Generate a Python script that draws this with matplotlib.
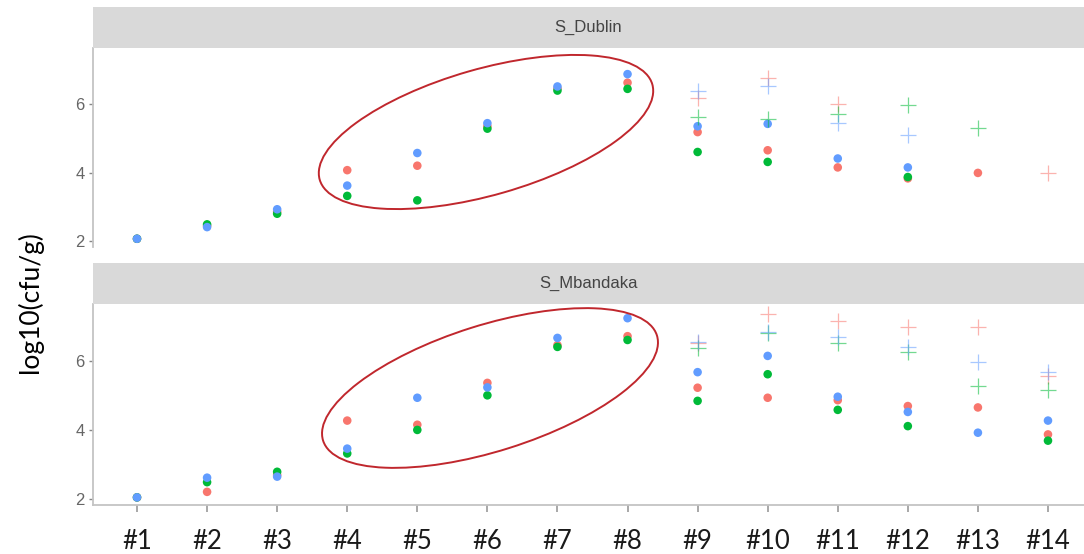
import numpy as np
import matplotlib
matplotlib.use("Agg")
import matplotlib.pyplot as plt
import matplotlib.transforms as mtransforms
from matplotlib.patches import Ellipse, Rectangle

# ---------------------------------------------------------------
# data
# ---------------------------------------------------------------
samples = ["#1", "#2", "#3", "#4", "#5", "#6", "#7",
           "#8", "#9", "#10", "#11", "#12", "#13", "#14"]
plus_samples = ["#9", "#10", "#11", "#12", "#13", "#14"]
nan = np.nan

# S_Dublin - filled circles
dub_red   = [2.07, 2.45, 2.86, 4.07, 4.20, 5.35, 6.45, 6.62, 5.18, 4.65, 4.15, 3.83, 3.99, nan]
dub_green = [2.07, 2.49, 2.80, 3.32, 3.19, 5.28, 6.39, 6.44, 4.60, 4.31, nan, 3.87, nan, nan]
dub_blue  = [2.07, 2.41, 2.93, 3.62, 4.57, 5.44, 6.51, 6.87, 5.35, 5.42, 4.41, 4.15, nan, nan]
# S_Dublin - crosses (#9..#14)
dub_red_p   = [6.18, 6.75, 5.99, nan, nan, 3.99]
dub_green_p = [5.62, 5.55, 5.72, 5.96, 5.29, nan]
dub_blue_p  = [6.39, 6.51, 5.44, 5.10, nan, nan]

# S_Mbandaka - filled circles
mba_red   = [2.05, 2.21, 2.70, 4.27, 4.15, 5.36, 6.45, 6.71, 5.22, 4.93, 4.86, 4.69, 4.65, 3.87]
mba_green = [2.05, 2.49, 2.79, 3.32, 4.00, 5.00, 6.40, 6.60, 4.84, 5.61, 4.58, 4.11, nan, 3.69]
mba_blue  = [2.05, 2.62, 2.65, 3.46, 4.93, 5.23, 6.66, 7.23, 5.67, 6.14, 4.96, 4.52, 3.92, 4.27]
# S_Mbandaka - crosses (#9..#14)
mba_red_p   = [6.50, 7.35, 7.14, 6.98, 6.97, 5.56]
mba_green_p = [6.36, 6.81, 6.50, 6.26, 5.27, 5.15]
mba_blue_p  = [6.55, 6.84, 6.68, 6.39, 5.97, 5.66]

panels = [
    ("S_Dublin", (dub_red, dub_green, dub_blue), (dub_red_p, dub_green_p, dub_blue_p)),
    ("S_Mbandaka", (mba_red, mba_green, mba_blue), (mba_red_p, mba_green_p, mba_blue_p)),
]
yticks = [2, 4, 6]

# ---------------------------------------------------------------
# style
# ---------------------------------------------------------------
W, H = 1084, 554
colors = ["#F8766D", "#00BA38", "#619CFF"]
axis_grey = "#c4c4c4"
strip_grey = "#d9d9d9"

fig = plt.figure(figsize=(W / 100, H / 100), dpi=100)
fig.patch.set_facecolor("white")

# pixel -> figure fraction (top-left origin, y down)
px = mtransforms.Affine2D().scale(1 / W, -1 / H).translate(0, 1) + fig.transFigure

ax_boxes = [(93, 47.7, 1084, 247.0), (93, 304, 1084, 505)]
strip_boxes = [(93, 7, 1084, 47.7), (93, 263, 1084, 304)]

x_pos = np.arange(1, len(samples) + 1)
x_plus = np.array([samples.index(s) + 1 for s in plus_samples])

for i, (name, circles, crosses) in enumerate(panels):
    x0, y0, x1, y1 = ax_boxes[i]
    ax = fig.add_axes([x0 / W, 1 - y1 / H, (x1 - x0) / W, (y1 - y0) / H])

    for col, vals in zip(colors, circles):
        ax.scatter(x_pos, vals, s=38, color=col, edgecolors="none", zorder=3)
    for col, vals in zip(colors, crosses):
        ax.scatter(x_plus, vals, s=120, marker="+", color=col,
                   linewidths=0.9, alpha=0.55, zorder=3)

    ax.set_xlim(0.372, 14.514)
    ax.set_ylim(1.83, 7.64)
    ax.set_yticks(yticks)
    ax.set_yticklabels([str(t) for t in yticks], fontsize=12,
                       color="#666666", fontfamily="Liberation Sans")
    ax.tick_params(axis="y", length=3, width=1, color="#888888", pad=3)
    for sp in ["top", "right"]:
        ax.spines[sp].set_visible(False)
    ax.spines["left"].set_color(axis_grey)
    ax.spines["left"].set_linewidth(1.3)
    ax.spines["bottom"].set_color(axis_grey)
    ax.spines["bottom"].set_linewidth(1.3)

    if i == 0:
        ax.spines["bottom"].set_visible(False)
        ax.set_xticks([])
    else:
        ax.set_xticks(x_pos)
        ax.set_xticklabels(samples, fontsize=18.5, color="#1a1a1a",
                           fontfamily="Lato")
        ax.tick_params(axis="x", length=5, width=1.2, color="#999999", pad=12)

    # facet strip
    sx0, sy0, sx1, sy1 = strip_boxes[i]
    fig.patches.append(Rectangle((sx0, sy0), sx1 - sx0, sy1 - sy0, transform=px,
                                 facecolor=strip_grey, edgecolor="none"))
    fig.text((sx0 + sx1) / 2 / W, 1 - (sy0 + sy1) / 2 / H, name,
             ha="center", va="center", fontsize=12, color="#444444",
             fontfamily="Liberation Sans")

# hand-drawn red ellipses highlighting #4-#8
for (cx, cy, w, h, ang) in [(486, 132, 346, 126, -16), (490, 388, 350, 126, -17.5)]:
    e = Ellipse((cx, cy), w, h, angle=ang, fill=False, edgecolor="#c0272d",
                linewidth=1.4, transform=px)
    fig.patches.append(e)

fig.text(30 / W, 1 - 302 / H, "log10(cfu/g)", rotation=90, ha="center",
         va="center", fontsize=19, color="black", fontfamily="Lato")

fig.savefig("out.png", dpi=100, facecolor="white")
